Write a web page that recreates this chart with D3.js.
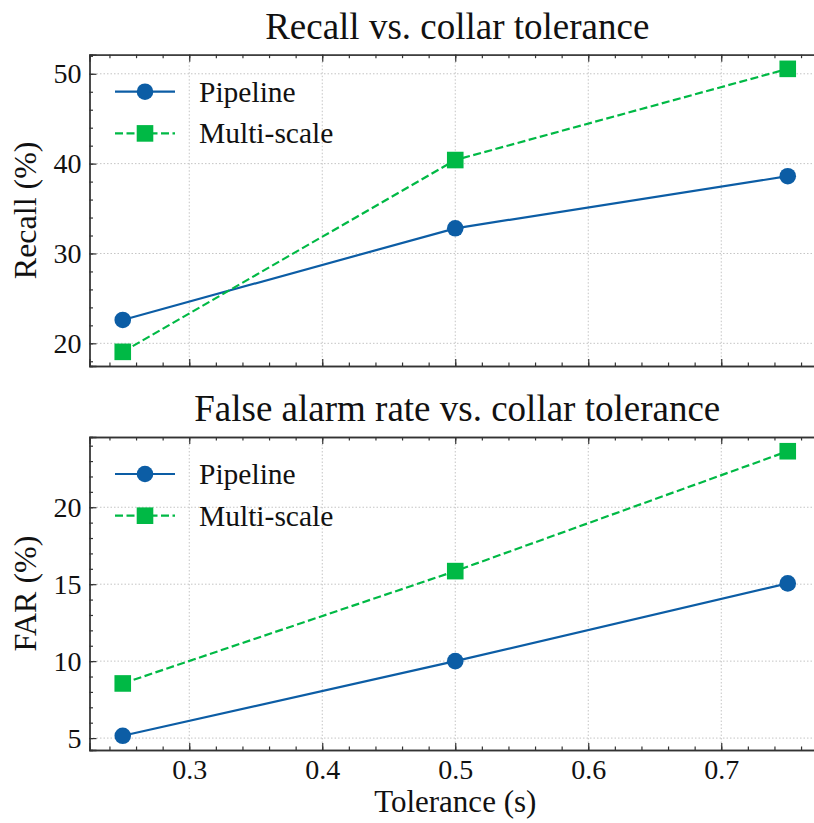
<!DOCTYPE html>
<html>
<head>
<meta charset="utf-8">
<script src="https://cdn.jsdelivr.net/npm/d3@7"></script>
<style>
  body { margin: 0; background: #fff; }
  svg { display: block; }
</style>
</head>
<body>
<script>
// data
const tolerances = [0.25, 0.5, 0.75];
const seriesNames = ['Pipeline', 'Multi-scale'];
const recallPipeline = [22.6, 32.8, 38.6];
const recallMulti = [19.05, 40.4, 50.55];
const farPipeline = [5.15, 10.0, 15.05];
const farMulti = [8.55, 15.85, 23.64];
const xTicks = [0.3, 0.4, 0.5, 0.6, 0.7];
const recallTicks = [20, 30, 40, 50];
const farTicks = [5, 10, 15, 20];

const width = 814;
const height = 823;
const blue = '#0C5DA5';
const green = '#00B945';
const spine = '#333';
const font = '"Liberation Serif", "Times New Roman", serif';

const svg = d3.select('body').append('svg').attr('width', width).attr('height', height)
  .style('font-family', font);

// shared x scale (right spine sits just past the picture edge)
const left = 89.5, right = 821;
const x = d3.scaleLinear().domain([0.225, 0.775]).range([left, right]);

function padded(vals) {
  const lo = d3.min(vals), hi = d3.max(vals), m = (hi - lo) * 0.05;
  return [lo - m, hi + m];
}

function label(sel, size) {
  return sel.style('font-family', font).attr('font-size', size).attr('fill', '#111');
}

function panel(opts) {
  const y = d3.scaleLinear().domain(padded(opts.a.concat(opts.b))).range([opts.bottom, opts.top]);
  const g = svg.append('g');

  // grid
  g.selectAll('.gx').data(xTicks).join('line')
    .attr('x1', d => x(d)).attr('x2', d => x(d))
    .attr('y1', opts.top).attr('y2', opts.bottom)
    .attr('stroke', '#c4c4c4').attr('stroke-width', 1).attr('stroke-dasharray', '1.5,2');
  g.selectAll('.gy').data(opts.ticks).join('line')
    .attr('x1', left).attr('x2', right)
    .attr('y1', d => y(d)).attr('y2', d => y(d))
    .attr('stroke', '#c4c4c4').attr('stroke-width', 1).attr('stroke-dasharray', '1.5,2');

  // axes, ticks pointing inwards on all four sides
  const xMinor = d3.range(0.24, 0.78, 0.02).map(v => +v.toFixed(2));
  const yMinor = d3.range(Math.ceil(y.domain()[0]), y.domain()[1], opts.minor);
  const bottomAx = g.append('g').attr('transform', `translate(0,${opts.bottom})`)
    .call(d3.axisBottom(x).tickValues(xTicks).tickSize(-7).tickPadding(16)
      .tickFormat(opts.showX ? d3.format('.1f') : ''));
  g.append('g').attr('transform', `translate(0,${opts.bottom})`)
    .call(d3.axisBottom(x).tickValues(xMinor).tickSize(-3.5).tickFormat(''));
  g.append('g').attr('transform', `translate(0,${opts.top})`)
    .call(d3.axisTop(x).tickValues(xTicks).tickSize(-7).tickFormat(''));
  g.append('g').attr('transform', `translate(0,${opts.top})`)
    .call(d3.axisTop(x).tickValues(xMinor).tickSize(-3.5).tickFormat(''));
  g.append('g').attr('transform', `translate(${left},0)`)
    .call(d3.axisLeft(y).tickValues(opts.ticks).tickSize(-7).tickPadding(8).tickFormat(d3.format('d')));
  g.append('g').attr('transform', `translate(${left},0)`)
    .call(d3.axisLeft(y).tickValues(yMinor).tickSize(-3.5).tickFormat(''));
  g.append('g').attr('transform', `translate(${right},0)`)
    .call(d3.axisRight(y).tickValues(opts.ticks).tickSize(-7).tickFormat(''));

  g.selectAll('.domain').attr('stroke', spine).attr('stroke-width', 1.3);
  g.selectAll('.tick line').attr('stroke', spine).attr('stroke-width', 1.2);
  label(g.selectAll('.tick text'), 28);
  bottomAx.selectAll('.tick text').attr('dy', '0.46em');

  // lines and markers
  const line = d3.line().x((d, i) => x(tolerances[i])).y(d => y(d));
  g.append('path').datum(opts.a).attr('d', line).attr('fill', 'none')
    .attr('stroke', blue).attr('stroke-width', 2.2);
  g.selectAll('.pc').data(opts.a).join('circle')
    .attr('cx', (d, i) => x(tolerances[i])).attr('cy', d => y(d)).attr('r', 8.3).attr('fill', blue);
  g.append('path').datum(opts.b).attr('d', line).attr('fill', 'none')
    .attr('stroke', green).attr('stroke-width', 2.2).attr('stroke-dasharray', '8,3.5');
  g.selectAll('.ms').data(opts.b).join('rect')
    .attr('x', (d, i) => x(tolerances[i]) - 8.3).attr('y', d => y(d) - 8.3)
    .attr('width', 16.6).attr('height', 16.6).attr('fill', green);

  // legend
  const leg = g.append('g').attr('transform', `translate(115,${opts.top + 37})`);
  seriesNames.forEach(function(name, i) {
    const row = leg.append('g').attr('transform', `translate(0,${i * 41.7})`);
    const col = i === 0 ? blue : green;
    row.append('line').attr('x1', 0).attr('x2', 60).attr('y1', 0).attr('y2', 0)
      .attr('stroke', col).attr('stroke-width', 2.2)
      .attr('stroke-dasharray', i === 0 ? null : '8,3.5');
    if (i === 0) row.append('circle').attr('cx', 30).attr('cy', 0).attr('r', 8.3).attr('fill', col);
    else row.append('rect').attr('x', 21.7).attr('y', -8.3).attr('width', 16.6).attr('height', 16.6).attr('fill', col);
    label(row.append('text'), 29.5).attr('x', 84).attr('y', 10).text(name);
  });

  // title and y label
  label(svg.append('text'), 37).attr('x', (left + right) / 2 + 2).attr('y', opts.top - 16)
    .attr('text-anchor', 'middle').text(opts.title);
  label(svg.append('text'), 32)
    .attr('transform', `translate(36,${(opts.top + opts.bottom) / 2}) rotate(-90)`)
    .attr('text-anchor', 'middle').text(opts.ylabel);
}

panel({ top: 54.7, bottom: 366, a: recallPipeline, b: recallMulti, ticks: recallTicks, minor: 2,
  title: 'Recall vs. collar tolerance', ylabel: 'Recall (%)', showX: false });
panel({ top: 437, bottom: 750, a: farPipeline, b: farMulti, ticks: farTicks, minor: 1,
  title: 'False alarm rate vs. collar tolerance', ylabel: 'FAR (%)', showX: true });

label(svg.append('text'), 31).attr('x', (left + right) / 2).attr('y', 812)
  .attr('text-anchor', 'middle').text('Tolerance (s)');
</script>
</body>
</html>
